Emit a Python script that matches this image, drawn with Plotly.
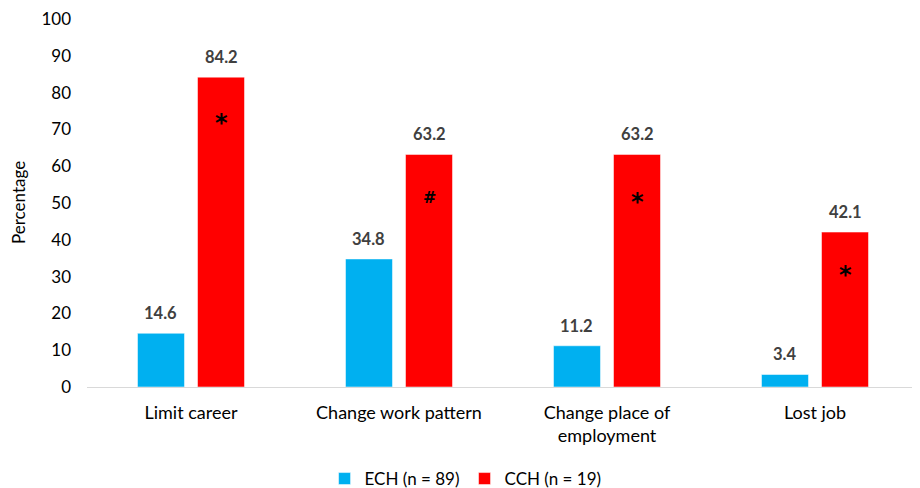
import plotly.graph_objects as go

categories = ["Limit career", "Change work pattern", "Change place of<br>employment", "Lost job"]
ech_values = [14.6, 34.8, 11.2, 3.4]
cch_values = [84.2, 63.2, 63.2, 42.1]
sig_marks = ["*", "#", "*", "*"]
sig_y = [72.3, 51.4, 50.8, 31.0]
y_ticks = [0, 10, 20, 30, 40, 50, 60, 70, 80, 90, 100]

FONT = "Lato, Open Sans, sans-serif"
BLUE = "#00B0F0"
RED = "#FF0000"

fig = go.Figure()
fig.add_trace(go.Bar(name="ECH (n = 89)", x=categories, y=ech_values,
                     marker=dict(color=BLUE, line=dict(color="rgba(255,255,255,0.5)", width=1))))
fig.add_trace(go.Bar(name="CCH (n = 19)", x=categories, y=cch_values,
                     marker=dict(color=RED, line=dict(color="rgba(255,255,255,0.5)", width=1))))

PLOT_W = 832

annotations = []
for i, c in enumerate(categories):
    for vals, off in ((ech_values, -0.145), (cch_values, 0.145)):
        annotations.append(dict(x=i + off, y=vals[i], xref="x", yref="y", text="<b>%.1f</b>" % vals[i],
                                showarrow=False, yshift=20, font=dict(family=FONT, size=16.5, color="#404040")))
    if sig_marks[i] == "*":
        f = dict(family="DejaVu Sans", size=24, color="#000000")
        shift = -2
    else:
        f = dict(family="DejaVu Sans", size=16, color="#000000")
        shift = 0
    annotations.append(dict(x=i + 0.145, y=sig_y[i], xref="x", yref="y", text="<b>%s</b>" % sig_marks[i],
                            showarrow=False, font=f, yshift=shift))

annotations.append(dict(x=-69 / PLOT_W, y=0.5, xref="paper", yref="paper", text="Percentage",
                        textangle=-90, showarrow=False, xanchor="center", yanchor="middle",
                        font=dict(family=FONT, size=17, color="#000000")))

fig.update_layout(
    width=920, height=488,
    margin=dict(l=79, r=9, t=11, b=109, autoexpand=False),
    paper_bgcolor="white", plot_bgcolor="white",
    barmode="group", bargap=0.423, bargroupgap=0.217,
    font=dict(family=FONT, size=17, color="#000000"),
    showlegend=True,
    legend=dict(orientation="h", x=0.455, xanchor="center", y=-0.25, yanchor="middle",
                font=dict(family=FONT, size=17, color="#000000"), itemwidth=30),
    annotations=annotations,
    xaxis=dict(showline=True, linecolor="#D9D9D9", linewidth=1, ticks="", showgrid=False,
               automargin=False, ticklabelstandoff=9,
               tickfont=dict(family=FONT, size=18, color="#000000")),
    yaxis=dict(range=[0, 100], tickvals=y_ticks, showgrid=False, zeroline=False, showline=False,
               ticks="", ticklabelstandoff=15, automargin=False, ticklabeloverflow="allow",
               tickfont=dict(family=FONT, size=17, color="#000000")),
)

fig.write_html("out.html")
